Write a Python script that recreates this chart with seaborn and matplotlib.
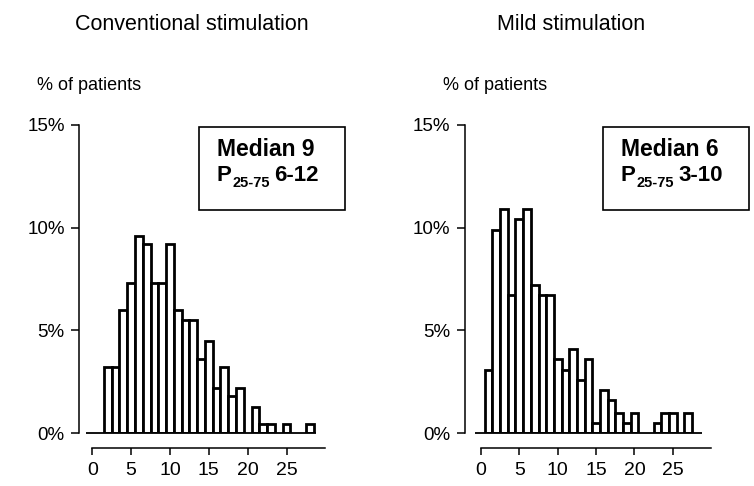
import matplotlib
matplotlib.use("Agg")
import matplotlib.pyplot as plt
import seaborn as sns
import pandas as pd
from matplotlib.patches import Rectangle

# Number of oocytes retrieved (histogram bins) and share of patients per bin (%)
oocytes = list(range(0, 29))
conventional_pct = [0, 0, 3.2, 3.2, 6.0, 7.3, 9.6, 9.2, 7.3, 7.3, 9.2, 6.0, 5.5, 5.5,
                    3.6, 4.5, 2.2, 3.2, 1.8, 2.2, 0, 1.3, 0.45, 0.45, 0, 0.45, 0, 0, 0.45]
mild_pct = [0, 3.1, 9.9, 10.9, 6.7, 10.4, 10.9, 7.2, 6.7, 6.7, 3.6, 3.1, 4.1, 2.6,
            3.6, 0.5, 2.1, 1.6, 1.0, 0.5, 1.0, 0, 0, 0.5, 1.0, 1.0, 0, 1.0, 0]

panel_titles = ["Conventional stimulation", "Mild stimulation"]
medians = ["9", "6"]
iqr_ranges = ["6-12", "3-10"]
y_ticks = [0, 5, 10, 15]
y_tick_labels = ["0%", "5%", "10%", "15%"]
x_ticks = [0, 5, 10, 15, 20, 25]

sns.set_style("ticks")
FAMILY = ["Liberation Sans", "DejaVu Sans"]
plt.rcParams["font.family"] = FAMILY
plt.rcParams["text.color"] = "black"
plt.rcParams["axes.labelcolor"] = "black"
plt.rcParams["xtick.color"] = "black"
plt.rcParams["ytick.color"] = "black"

W, H = 754, 486
fig = plt.figure(figsize=(W / 100, H / 100), dpi=100)
fig.patch.set_facecolor("white")


def axes_px(left, top, right, bottom):
    return fig.add_axes([left / W, 1 - bottom / H, (right - left) / W, (bottom - top) / H])


def fx(px):
    return px / W


def fy(px):
    return 1 - px / H


panels = [
    dict(box=(84.5, 124.7, 325.4, 433.3), spine_out=3.7, data=conventional_pct,
         title_x=192, ylabel_x=37, stat_left=199),
    dict(box=(473.3, 124.7, 711.1, 433.3), spine_out=6.0, data=mild_pct,
         title_x=571, ylabel_x=443, stat_left=603),
]

text_items = []
for i, p in enumerate(panels):
    ax = axes_px(*p["box"])
    ax.set_facecolor("none")
    df = pd.DataFrame({"oocytes": oocytes, "pct": p["data"]})
    df = df[df["pct"] > 0]
    sns.barplot(data=df, x="oocytes", y="pct", native_scale=True, width=1.0,
                color="white", edgecolor="black", linewidth=2.0, errorbar=None,
                saturation=1, ax=ax)
    ax.hlines(0, -0.75, 28.75, color="black", lw=1.3, zorder=5, clip_on=False)

    ax.set_xlim(-1, 30)
    ax.set_ylim(0, 15)
    ax.set_xlabel("")
    ax.set_ylabel("")
    for s in ("top", "right"):
        ax.spines[s].set_visible(False)
    ax.spines["left"].set_position(("outward", p["spine_out"]))
    ax.spines["left"].set_bounds(0, 15)
    ax.spines["bottom"].set_position(("outward", 10.4))
    ax.spines["bottom"].set_bounds(0, 30)
    for s in ("left", "bottom"):
        ax.spines[s].set_linewidth(1.1)
        ax.spines[s].set_color("black")
    ax.set_yticks(y_ticks)
    ax.set_yticklabels(y_tick_labels)
    ax.set_xticks(x_ticks)
    ax.set_xticklabels([str(t) for t in x_ticks])
    ax.tick_params(axis="y", length=5.5, width=1.1, pad=5, labelsize=13.5, colors="black")
    ax.tick_params(axis="x", length=5.0, width=1.1, pad=5, labelsize=14, colors="black")

    fig.text(fx(p["title_x"]), fy(25), panel_titles[i], ha="center", va="center",
             fontsize=15.5, family=FAMILY)
    fig.text(fx(p["ylabel_x"]), fy(86), "% of patients", ha="left", va="center",
             fontsize=13, family=FAMILY)

    left = p["stat_left"]
    fig.add_artist(Rectangle((fx(left), fy(210)), 146 / W, 83 / H,
                             transform=fig.transFigure, fill=False, ec="black", lw=1.2))
    fig.text(fx(left + 18), fy(156.5), f"Median {medians[i]}", ha="left",
             va="baseline", fontsize=16.5, weight="bold", family=FAMILY)
    ptxt = fig.text(fx(left + 18), fy(181), "P", ha="left", va="baseline",
                    fontsize=16, weight="bold", family=FAMILY)
    text_items.append((ptxt, iqr_ranges[i]))

# subscript and range placed after the "P" so they follow its rendered width
fig.canvas.draw()
renderer = fig.canvas.get_renderer()
for ptxt, rng in text_items:
    ext = ptxt.get_window_extent(renderer)
    sub = fig.text((ext.x1 + 1) / W, fy(187), "25-75", ha="left", va="baseline",
                   fontsize=10.5, weight="bold", family=FAMILY)
    fig.canvas.draw()
    ext2 = sub.get_window_extent(renderer)
    fig.text((ext2.x1 + 4) / W, fy(181), rng, ha="left", va="baseline",
             fontsize=16, weight="bold", family=FAMILY)

fig.savefig("out.png", dpi=100, facecolor="white")
